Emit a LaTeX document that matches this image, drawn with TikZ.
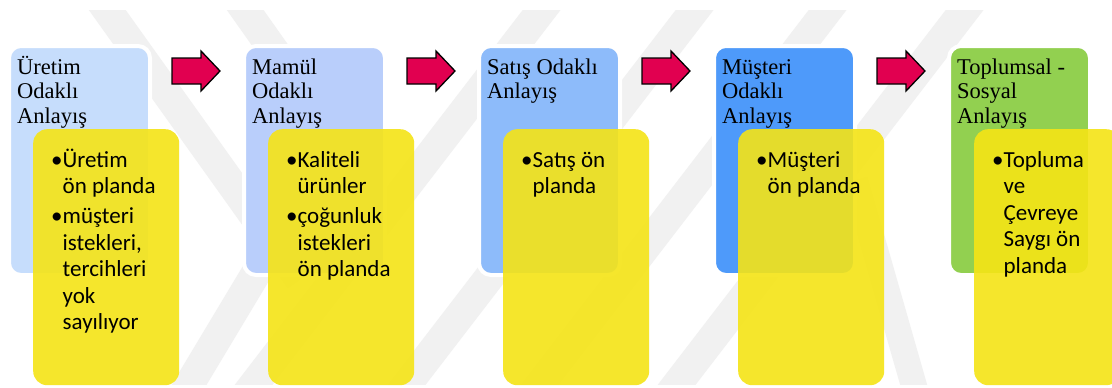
\documentclass[tikz,border=0pt]{standalone}
\usepackage{fontspec}
\setmainfont{Liberation Serif}
\newfontfamily\headfont{Liberation Serif}
\newfontfamily\bodyfont{Carlito}

\definecolor{stageA}{RGB}{198,221,252}
\definecolor{stageB}{RGB}{185,206,251}
\definecolor{stageC}{RGB}{141,187,250}
\definecolor{stageD}{RGB}{78,154,250}
\definecolor{stageE}{RGB}{146,208,80}
\definecolor{notefill}{RGB}{245,228,22}
\definecolor{arrowfill}{RGB}{225,0,80}
\definecolor{markgray}{RGB}{241,241,241}

\tikzset{
  stage/.style={draw=white, line width=4pt, rounded corners=12pt,
    minimum width=141pt, minimum height=229pt, anchor=north west, inner sep=0pt},
  note/.style={fill=notefill, fill opacity=0.9, rounded corners=14pt,
    minimum width=146pt, minimum height=256pt, anchor=north west, inner sep=0pt},
  titletext/.style={anchor=base west, inner sep=0pt,
    font=\headfont\fontsize{22.5}{24.5}\selectfont},
  bullettext/.style={anchor=base west, inner sep=0pt,
    font=\bodyfont\fontsize{23}{26.5}\selectfont},
  flowarrow/.style={fill=arrowfill, draw=black, line width=1.3pt, line join=miter},
  markband/.style={draw=markgray, line width=30pt},
}

\begin{document}
\begin{tikzpicture}[x=1pt, y=-1pt]
\useasboundingbox[fill=white] (0,0) rectangle (1112,388);

% faint background bands
\begin{scope}
  \clip (0,10) rectangle (1112,384);
  \draw[markband] (557,-10) -- (242,400);
  \draw[markband] (710,-10) -- (395,400);
  \draw[markband] (843,-10) -- (528,400);
  \draw[markband] (980,-10) -- (665,400);
  \draw[markband] (183,395) -- (330,150);
  \draw[markband] (98,-3) -- (300,280);
  \draw[markband] (236,-3) -- (330,130);
  \draw[markband, line width=26pt] (855,180) -- (918,400);
\end{scope}

% stage boxes
\node[stage, fill=stageA] (s1) at (7,44) {};
\node[stage, fill=stageB] (s2) at (242,44) {};
\node[stage, fill=stageC] (s3) at (477,44) {};
\node[stage, fill=stageD] (s4) at (712,44) {};
\node[stage, fill=stageE] (s5) at (947,44) {};

% note boxes
\node[note] (n1) at (33,129) {};
\node[note] (n2) at (268,129) {};
\node[note] (n3) at (503,129) {};
\node[note] (n4) at (738,129) {};
\node[note] (n5) at (974,129) {};

% block arrows between stages
\foreach \k in {0,...,3}{
  \coordinate (arrow\k) at (172+235*\k, 71);
  \begin{scope}[shift={(arrow\k)}]
    \draw[flowarrow] (0,-13) -- (29,-13) -- (29,-20) -- (48,0) -- (29,20)
      -- (29,13) -- (0,13) -- cycle;
  \end{scope}
}

% stage titles
\node[titletext] (t1) at (17,74) {\begin{tabular}[t]{@{}l@{}}Üretim\\Odaklı\\Anlayış\end{tabular}};
\node[titletext] (t2) at (252,74) {\begin{tabular}[t]{@{}l@{}}Mamül\\Odaklı\\Anlayış\end{tabular}};
\node[titletext] (t3) at (487,74) {\begin{tabular}[t]{@{}l@{}}Satış Odaklı\\Anlayış\end{tabular}};
\node[titletext] (t4) at (722,74) {\begin{tabular}[t]{@{}l@{}}Müşteri\\Odaklı\\Anlayış\end{tabular}};
\node[titletext] (t5) at (957,74) {\begin{tabular}[t]{@{}l@{}}Toplumsal -\\Sosyal\\Anlayış\end{tabular}};

% note texts
\node[bullettext] (b1) at (51,167) {\begin{tabular}[t]{@{}l@{}l@{}}•&Üretim\\&ön planda\\[3.5pt]•&müşteri\\&istekleri,\\&tercihleri\\&yok\\&sayılıyor\end{tabular}};
\node[bullettext] (b2) at (286,167) {\begin{tabular}[t]{@{}l@{}l@{}}•&Kaliteli\\&ürünler\\[3.5pt]•&çoğunluk\\&istekleri\\&ön planda\end{tabular}};
\node[bullettext] (b3) at (521,167) {\begin{tabular}[t]{@{}l@{}l@{}}•&Satış ön\\&planda\end{tabular}};
\node[bullettext] (b4) at (756,167) {\begin{tabular}[t]{@{}l@{}l@{}}•&Müşteri\\&ön planda\end{tabular}};
\node[bullettext] (b5) at (992,167) {\begin{tabular}[t]{@{}l@{}l@{}}•&Topluma\\&ve\\&Çevreye\\&Saygı ön\\&planda\end{tabular}};
\end{tikzpicture}
\end{document}
